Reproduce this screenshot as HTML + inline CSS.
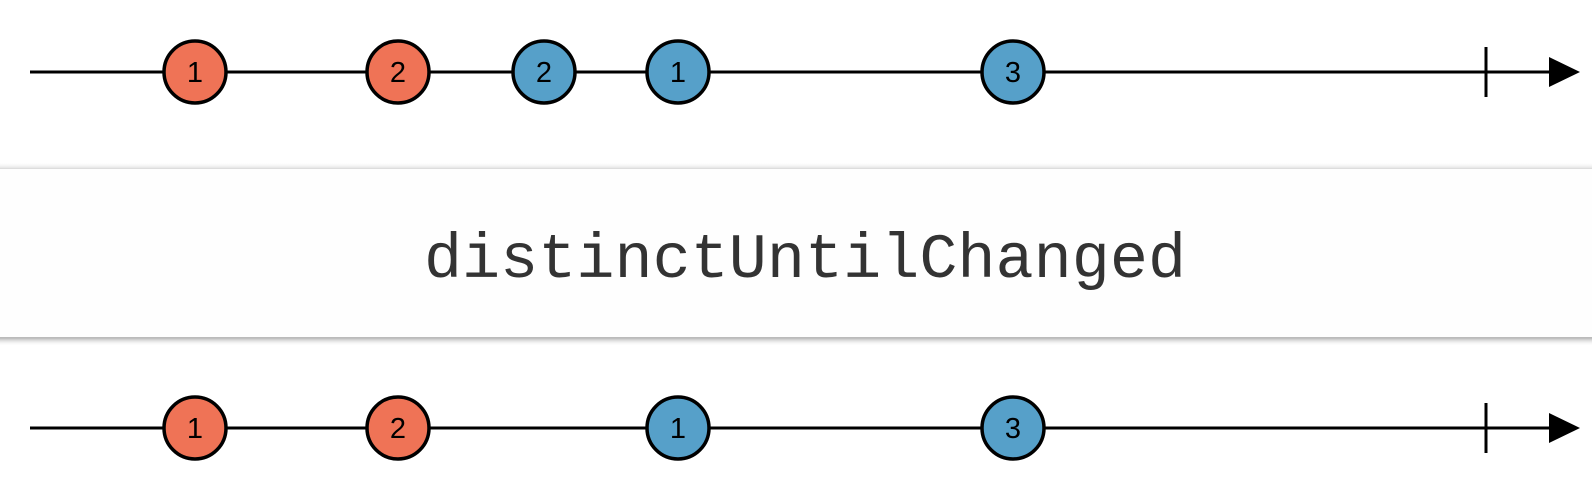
<!DOCTYPE html>
<html><head><meta charset="utf-8"><style>
html,body{margin:0;padding:0;background:#fff;width:1592px;height:490px;overflow:hidden}
</style></head><body>
<svg width="1592" height="490" viewBox="0 0 1592 490" xmlns="http://www.w3.org/2000/svg">
<defs>
<linearGradient id="sh" x1="0" y1="0" x2="0" y2="1"><stop offset="0" stop-color="#999" stop-opacity="0.7"/><stop offset="1" stop-color="#fff" stop-opacity="0"/></linearGradient>
<linearGradient id="st" x1="0" y1="1" x2="0" y2="0"><stop offset="0" stop-color="#ccc" stop-opacity="0.7"/><stop offset="1" stop-color="#fff" stop-opacity="0"/></linearGradient>
</defs>
<rect x="0" y="162" width="1592" height="7" fill="url(#st)"/>
<rect x="0" y="338" width="1592" height="8" fill="url(#sh)"/>
<rect x="0" y="169" width="1592" height="169" fill="#fefefe"/>
<line x1="0" y1="168.5" x2="1592" y2="168.5" stroke="#ddd" stroke-width="1"/>
<line x1="0" y1="337.5" x2="1592" y2="337.5" stroke="#bbb" stroke-width="1"/>
<text x="805" y="277" text-anchor="middle" font-family="'Liberation Mono',monospace" font-size="63.5" fill="#333">distinctUntilChanged</text>
<g stroke="#000" stroke-width="3">
<line x1="30" y1="72" x2="1552" y2="72"/>
<line x1="1486" y1="47" x2="1486" y2="97"/>
<line x1="30" y1="428" x2="1552" y2="428"/>
<line x1="1486" y1="403" x2="1486" y2="453"/>
</g>
<polygon points="1549,57 1580,72 1549,87" fill="#000"/>
<polygon points="1549,413 1580,428 1549,443" fill="#000"/>
<g stroke="#000" stroke-width="3.5">
<circle cx="195" cy="72" r="31" fill="#EF7356"/>
<circle cx="398" cy="72" r="31" fill="#EF7356"/>
<circle cx="544" cy="72" r="31" fill="#56A0C9"/>
<circle cx="678" cy="72" r="31" fill="#56A0C9"/>
<circle cx="1013" cy="72" r="31" fill="#56A0C9"/>
<circle cx="195" cy="428" r="31" fill="#EF7356"/>
<circle cx="398" cy="428" r="31" fill="#EF7356"/>
<circle cx="678" cy="428" r="31" fill="#56A0C9"/>
<circle cx="1013" cy="428" r="31" fill="#56A0C9"/>
</g>
<g font-family="'Liberation Sans',sans-serif" font-size="29" text-anchor="middle" fill="#000">
<text x="195" y="82">1</text><text x="398" y="82">2</text><text x="544" y="82">2</text><text x="678" y="82">1</text><text x="1013" y="82">3</text>
<text x="195" y="438">1</text><text x="398" y="438">2</text><text x="678" y="438">1</text><text x="1013" y="438">3</text>
</g>
</svg>
</body></html>
